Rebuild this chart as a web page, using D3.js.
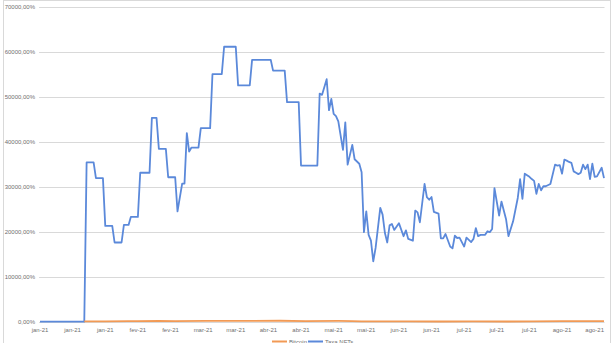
<!DOCTYPE html>
<meta charset="utf-8">
<style>
body { margin: 0; background: #fff; }
.grid line { stroke: #d9d9d9; stroke-width: 1px; }
.line { fill: none; stroke-width: 1.8px; stroke-linejoin: round; }
text { font-family: "Liberation Sans", Arial, sans-serif; fill: #6f6f6f; }
</style>
<body>
<script src="https://d3js.org/d3.v7.min.js"></script>
<script>

// series: [date, value in %]
var taxaNfts = [
  ["2021-01-01", 0], ["2021-01-20", 0], ["2021-01-21", 35400], ["2021-01-24", 35400],
  ["2021-01-25", 31900], ["2021-01-28", 31900], ["2021-01-29", 21300], ["2021-02-01", 21300],
  ["2021-02-02", 17600], ["2021-02-05", 17600], ["2021-02-06", 21500], ["2021-02-08", 21500],
  ["2021-02-09", 23300], ["2021-02-12", 23300], ["2021-02-13", 33100], ["2021-02-17", 33100],
  ["2021-02-18", 45300], ["2021-02-20", 45300], ["2021-02-21", 38400], ["2021-02-24", 38400],
  ["2021-02-25", 32100], ["2021-02-28", 32100], ["2021-03-01", 24500], ["2021-03-03", 30700],
  ["2021-03-04", 30700], ["2021-03-05", 41900], ["2021-03-06", 37800], ["2021-03-07", 38700],
  ["2021-03-10", 38700], ["2021-03-11", 43000], ["2021-03-15", 43000], ["2021-03-16", 55000],
  ["2021-03-20", 55000], ["2021-03-21", 61100], ["2021-03-26", 61100], ["2021-03-27", 52500],
  ["2021-04-01", 52500], ["2021-04-02", 58200], ["2021-04-10", 58200], ["2021-04-11", 55800],
  ["2021-04-16", 55800], ["2021-04-17", 48800], ["2021-04-22", 48800], ["2021-04-23", 34700],
  ["2021-04-30", 34700], ["2021-05-01", 50700], ["2021-05-02", 50400], ["2021-05-04", 53900],
  ["2021-05-05", 47000], ["2021-05-06", 49500], ["2021-05-07", 46200], ["2021-05-08", 45700],
  ["2021-05-09", 44500], ["2021-05-11", 38200], ["2021-05-12", 44300], ["2021-05-13", 34900],
  ["2021-05-15", 39300], ["2021-05-16", 36100], ["2021-05-18", 35100], ["2021-05-19", 33200],
  ["2021-05-20", 19900], ["2021-05-21", 24500], ["2021-05-22", 19300], ["2021-05-23", 18000],
  ["2021-05-24", 13400], ["2021-05-25", 16400], ["2021-05-27", 25300], ["2021-05-28", 23800],
  ["2021-05-29", 19700], ["2021-05-30", 17600], ["2021-05-31", 21400], ["2021-06-01", 21700],
  ["2021-06-02", 20400], ["2021-06-04", 21900], ["2021-06-06", 19000], ["2021-06-07", 20300],
  ["2021-06-08", 18400], ["2021-06-10", 18000], ["2021-06-11", 24700], ["2021-06-12", 24300],
  ["2021-06-13", 22100], ["2021-06-15", 30600], ["2021-06-16", 27700], ["2021-06-17", 27100],
  ["2021-06-18", 27700], ["2021-06-19", 24400], ["2021-06-21", 24000], ["2021-06-22", 18500],
  ["2021-06-23", 18500], ["2021-06-24", 19500], ["2021-06-26", 16700], ["2021-06-27", 16300],
  ["2021-06-28", 19100], ["2021-06-29", 18600], ["2021-06-30", 18700], ["2021-07-02", 16700],
  ["2021-07-03", 18700], ["2021-07-04", 18200], ["2021-07-05", 17700], ["2021-07-06", 18400],
  ["2021-07-07", 20800], ["2021-07-08", 19000], ["2021-07-09", 19300], ["2021-07-11", 19300],
  ["2021-07-12", 20100], ["2021-07-13", 19900], ["2021-07-14", 20600], ["2021-07-15", 29700],
  ["2021-07-17", 23600], ["2021-07-18", 26700], ["2021-07-20", 22700], ["2021-07-21", 19000],
  ["2021-07-23", 22300], ["2021-07-25", 27500], ["2021-07-26", 31700], ["2021-07-27", 27300],
  ["2021-07-28", 32900], ["2021-07-30", 32200], ["2021-07-31", 31700], ["2021-08-01", 31300],
  ["2021-08-02", 28400], ["2021-08-03", 30600], ["2021-08-04", 29200], ["2021-08-05", 30100],
  ["2021-08-06", 30100], ["2021-08-08", 30600], ["2021-08-10", 34900], ["2021-08-11", 34700],
  ["2021-08-12", 34800], ["2021-08-13", 32900], ["2021-08-14", 36000], ["2021-08-15", 35800],
  ["2021-08-16", 35500], ["2021-08-17", 35300], ["2021-08-18", 33400], ["2021-08-19", 33100],
  ["2021-08-20", 32800], ["2021-08-21", 33100], ["2021-08-22", 34900], ["2021-08-23", 33900],
  ["2021-08-24", 34900], ["2021-08-25", 31700], ["2021-08-26", 35100], ["2021-08-27", 32200],
  ["2021-08-28", 32300], ["2021-08-30", 34200], ["2021-08-31", 31900]
];

var bitcoin = [
  ["2021-01-20", 60], ["2021-01-29", 75], ["2021-02-08", 120], ["2021-02-12", 135],
  ["2021-02-21", 190], ["2021-02-28", 150], ["2021-03-13", 200], ["2021-03-25", 165],
  ["2021-04-14", 215], ["2021-04-25", 150], ["2021-05-09", 170], ["2021-05-15", 135],
  ["2021-05-19", 70], ["2021-05-23", 55], ["2021-06-08", 60], ["2021-06-22", 50],
  ["2021-07-06", 60], ["2021-07-20", 40], ["2021-07-31", 90], ["2021-08-13", 125],
  ["2021-08-23", 140], ["2021-08-31", 130]
];

var yTicks = [0, 10000, 20000, 30000, 40000, 50000, 60000, 70000];
var monthNames = ["jan", "fev", "mar", "abr", "mai", "jun", "jul", "ago", "set", "out", "nov", "dez"];
var seriesNames = ["Bitcoin", "Taxa NFTs"];
var seriesColors = ["#f29a55", "#5b89da"];

var width = 615, height = 343;
var parseDate = d3.timeParse("%Y-%m-%d");

var svg = d3.select("body").append("svg")
    .attr("width", width)
    .attr("height", height);

// chart border
svg.append("rect")
    .attr("x", 3.5).attr("y", 0.5)
    .attr("width", 607).attr("height", 360)
    .attr("fill", "none")
    .attr("stroke", "#d9d9d9");

var x = d3.scaleTime()
    .domain([parseDate("2021-01-01"), parseDate("2021-08-31")])
    .range([40, 604]);
var y = d3.scaleLinear().domain([0, 70000]).range([321.7, 6.7]);

// gridlines
svg.append("g").attr("class", "grid")
  .selectAll("line")
  .data(yTicks)
  .enter().append("line")
    .attr("x1", 39).attr("x2", 604.5)
    .attr("y1", function(d) { return Math.round(y(d)) + 0.5; })
    .attr("y2", function(d) { return Math.round(y(d)) + 0.5; });

// y labels
svg.append("g")
  .selectAll("text")
  .data(yTicks)
  .enter().append("text")
    .attr("x", 35)
    .attr("y", function(d) { return y(d) + 2; })
    .attr("text-anchor", "end")
    .attr("font-size", 6)
    .text(function(d) { return d3.format(".2f")(d).replace(".", ",") + "%"; });

// x labels, every 14 days
var xTicks = d3.timeDay.range(parseDate("2021-01-01"), parseDate("2021-09-01"), 1)
    .filter(function(d, i) { return i % 14 === 0; });
svg.append("g")
  .selectAll("text")
  .data(xTicks)
  .enter().append("text")
    .attr("x", function(d) { return x(d); })
    .attr("y", 332)
    .attr("text-anchor", "middle")
    .attr("font-size", 6)
    .text(function(d) { return monthNames[d.getMonth()] + "-" + d3.timeFormat("%y")(d); });

var line = d3.line()
    .x(function(d) { return x(parseDate(d[0])); })
    .y(function(d) { return y(d[1]); });

svg.append("path")
    .datum(taxaNfts)
    .attr("class", "line")
    .attr("stroke", seriesColors[1])
    .attr("d", line);

svg.append("path")
    .datum(bitcoin)
    .attr("class", "line")
    .attr("stroke", seriesColors[0])
    .attr("d", line);

// legend
var legX = [272, 308];
seriesNames.forEach(function(name, i) {
  svg.append("line")
      .attr("x1", legX[i]).attr("x2", legX[i] + 15)
      .attr("y1", 341.5).attr("y2", 341.5)
      .attr("stroke", seriesColors[i])
      .attr("stroke-width", 2);
  svg.append("text")
      .attr("x", legX[i] + 17)
      .attr("y", 343.5)
      .attr("font-size", 6)
      .text(name);
});

</script>
</body>
